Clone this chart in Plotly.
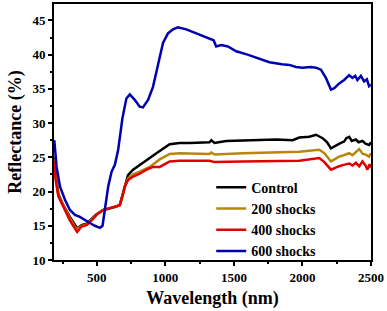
import plotly.graph_objects as go

# Wavelength (nm) / reflectance (%)
ctrl_x = [190, 200, 220, 256, 304, 341, 357, 389, 426, 462, 498, 547, 595, 644, 668, 687, 704, 728, 765, 813, 862, 935, 1032, 1104, 1177, 1250, 1322, 1335, 1359, 1444, 1565, 1686, 1808, 1929, 1977, 2050, 2099, 2147, 2180, 2208, 2232, 2256, 2280, 2304, 2320, 2341, 2360, 2389, 2410, 2438, 2460, 2486, 2500]
ctrl_y = [25.0, 22.5, 19.6, 18.0, 16.3, 15.0, 14.6, 15.1, 15.3, 16.0, 16.7, 17.3, 17.6, 17.8, 18.1, 19.5, 21.0, 22.4, 23.2, 23.9, 24.6, 25.6, 26.9, 27.1, 27.1, 27.1, 27.2, 27.5, 27.1, 27.4, 27.5, 27.6, 27.6, 27.5, 27.9, 28.0, 28.3, 27.8, 27.2, 26.3, 26.6, 26.8, 27.1, 27.3, 27.8, 28.0, 27.4, 27.6, 27.2, 27.4, 27.0, 26.8, 27.2]

s200_x = [190, 200, 220, 256, 304, 341, 357, 389, 426, 462, 498, 547, 595, 644, 668, 687, 704, 728, 765, 813, 886, 959, 1032, 1104, 1250, 1322, 1335, 1359, 1565, 1808, 1977, 2123, 2160, 2208, 2240, 2268, 2300, 2341, 2365, 2390, 2414, 2440, 2462, 2486, 2500]
s200_y = [24.8, 22.2, 19.4, 17.9, 16.1, 14.8, 14.5, 15.0, 15.2, 15.9, 16.6, 17.3, 17.6, 17.8, 18.0, 19.3, 20.7, 21.9, 22.5, 22.9, 23.6, 24.7, 25.5, 25.6, 25.5, 25.5, 25.7, 25.4, 25.6, 25.7, 25.8, 26.1, 25.6, 24.4, 24.8, 25.1, 25.3, 25.6, 25.3, 25.7, 26.2, 25.5, 25.4, 25.1, 25.6]

s400_x = [190, 200, 220, 256, 304, 341, 357, 389, 426, 462, 498, 547, 595, 644, 668, 687, 704, 728, 765, 813, 862, 910, 959, 1032, 1104, 1322, 1359, 1565, 1808, 1977, 2123, 2160, 2208, 2240, 2268, 2300, 2341, 2365, 2390, 2414, 2438, 2460, 2474, 2490, 2500]
s400_y = [24.4, 21.7, 19.3, 17.8, 15.8, 14.6, 14.1, 14.9, 15.1, 15.8, 16.6, 17.3, 17.6, 17.8, 18.0, 19.3, 20.7, 21.7, 22.2, 22.6, 23.2, 23.6, 23.6, 24.4, 24.5, 24.5, 24.3, 24.4, 24.5, 24.5, 24.9, 24.3, 23.2, 23.5, 23.7, 23.9, 24.1, 23.8, 24.2, 23.7, 24.4, 23.8, 23.2, 24.0, 23.5]

s600_x = [190, 207, 232, 268, 304, 341, 377, 413, 450, 486, 523, 542, 559, 583, 608, 632, 656, 687, 716, 741, 777, 813, 837, 874, 910, 946, 983, 1019, 1056, 1092, 1153, 1226, 1299, 1335, 1352, 1371, 1408, 1456, 1517, 1600, 1674, 1759, 1850, 1904, 1953, 2000, 2060, 2099, 2135, 2171, 2208, 2232, 2268, 2304, 2341, 2365, 2385, 2401, 2426, 2450, 2470, 2486, 2500]
s600_y = [27.5, 23.6, 20.7, 18.8, 17.3, 16.6, 16.3, 15.8, 15.4, 15.0, 14.7, 15.0, 17.3, 20.7, 22.9, 23.9, 26.1, 30.7, 33.6, 34.2, 33.4, 32.4, 32.3, 33.4, 35.3, 38.3, 41.7, 43.1, 43.7, 44.0, 43.7, 43.1, 42.5, 42.2, 42.1, 41.2, 41.4, 41.2, 40.5, 40.0, 39.5, 38.9, 38.6, 38.5, 38.2, 38.1, 38.2, 38.1, 37.8, 36.6, 34.9, 35.1, 35.8, 36.3, 37.0, 36.6, 36.9, 36.3, 36.9, 36.1, 36.4, 35.4, 35.6]

names = ["Control", "200 shocks", "400 shocks", "600 shocks"]
colors = ["#000000", "#b8860b", "#e00000", "#0000b0"]

font_fam = "Liberation Serif"
fig = go.Figure()
for xs, ys, n, c in zip([ctrl_x, s200_x, s400_x, s600_x], [ctrl_y, s200_y, s400_y, s600_y], names, colors):
    fig.add_trace(go.Scatter(x=xs, y=ys, mode="lines", name=n,
                             line=dict(color=c, width=2.5)))

axis_common = dict(showline=True, linecolor="black", linewidth=2, mirror=True,
                   ticks="outside", ticklen=4, tickwidth=1.5, tickcolor="black",
                   showgrid=False, zeroline=False,
                   tickfont=dict(family=font_fam, size=13, color="black", weight="bold"))
fig.update_xaxes(range=[188, 2500], dtick=500, tick0=0,
                 minor=dict(dtick=250, ticks="outside", ticklen=2, tickcolor="black"),
                 title=dict(text="Wavelength (nm)", font=dict(family=font_fam, size=18, color="black", weight="bold"), standoff=8),
                 **axis_common)
fig.update_yaxes(range=[10, 47.4], dtick=5, tick0=0,
                 minor=dict(dtick=2.5, ticks="outside", ticklen=2, tickcolor="black"),
                 title=dict(text="Reflectance (%)", font=dict(family=font_fam, size=18, color="black", weight="bold"), standoff=6),
                 **axis_common)
fig.update_layout(width=387, height=311, margin=dict(l=54, r=16, t=4, b=51, autoexpand=False),
                  plot_bgcolor="white", paper_bgcolor="white",
                  legend=dict(x=0.496, y=0.345, xanchor="left", yanchor="top",
                              bgcolor="rgba(0,0,0,0)", tracegroupgap=0,
                              font=dict(family=font_fam, size=14, color="black", weight="bold")),
                  showlegend=True)
fig.write_html("out.html", config={"displayModeBar": False},
               post_script="document.body.style.margin='0';document.body.style.padding='0';")
